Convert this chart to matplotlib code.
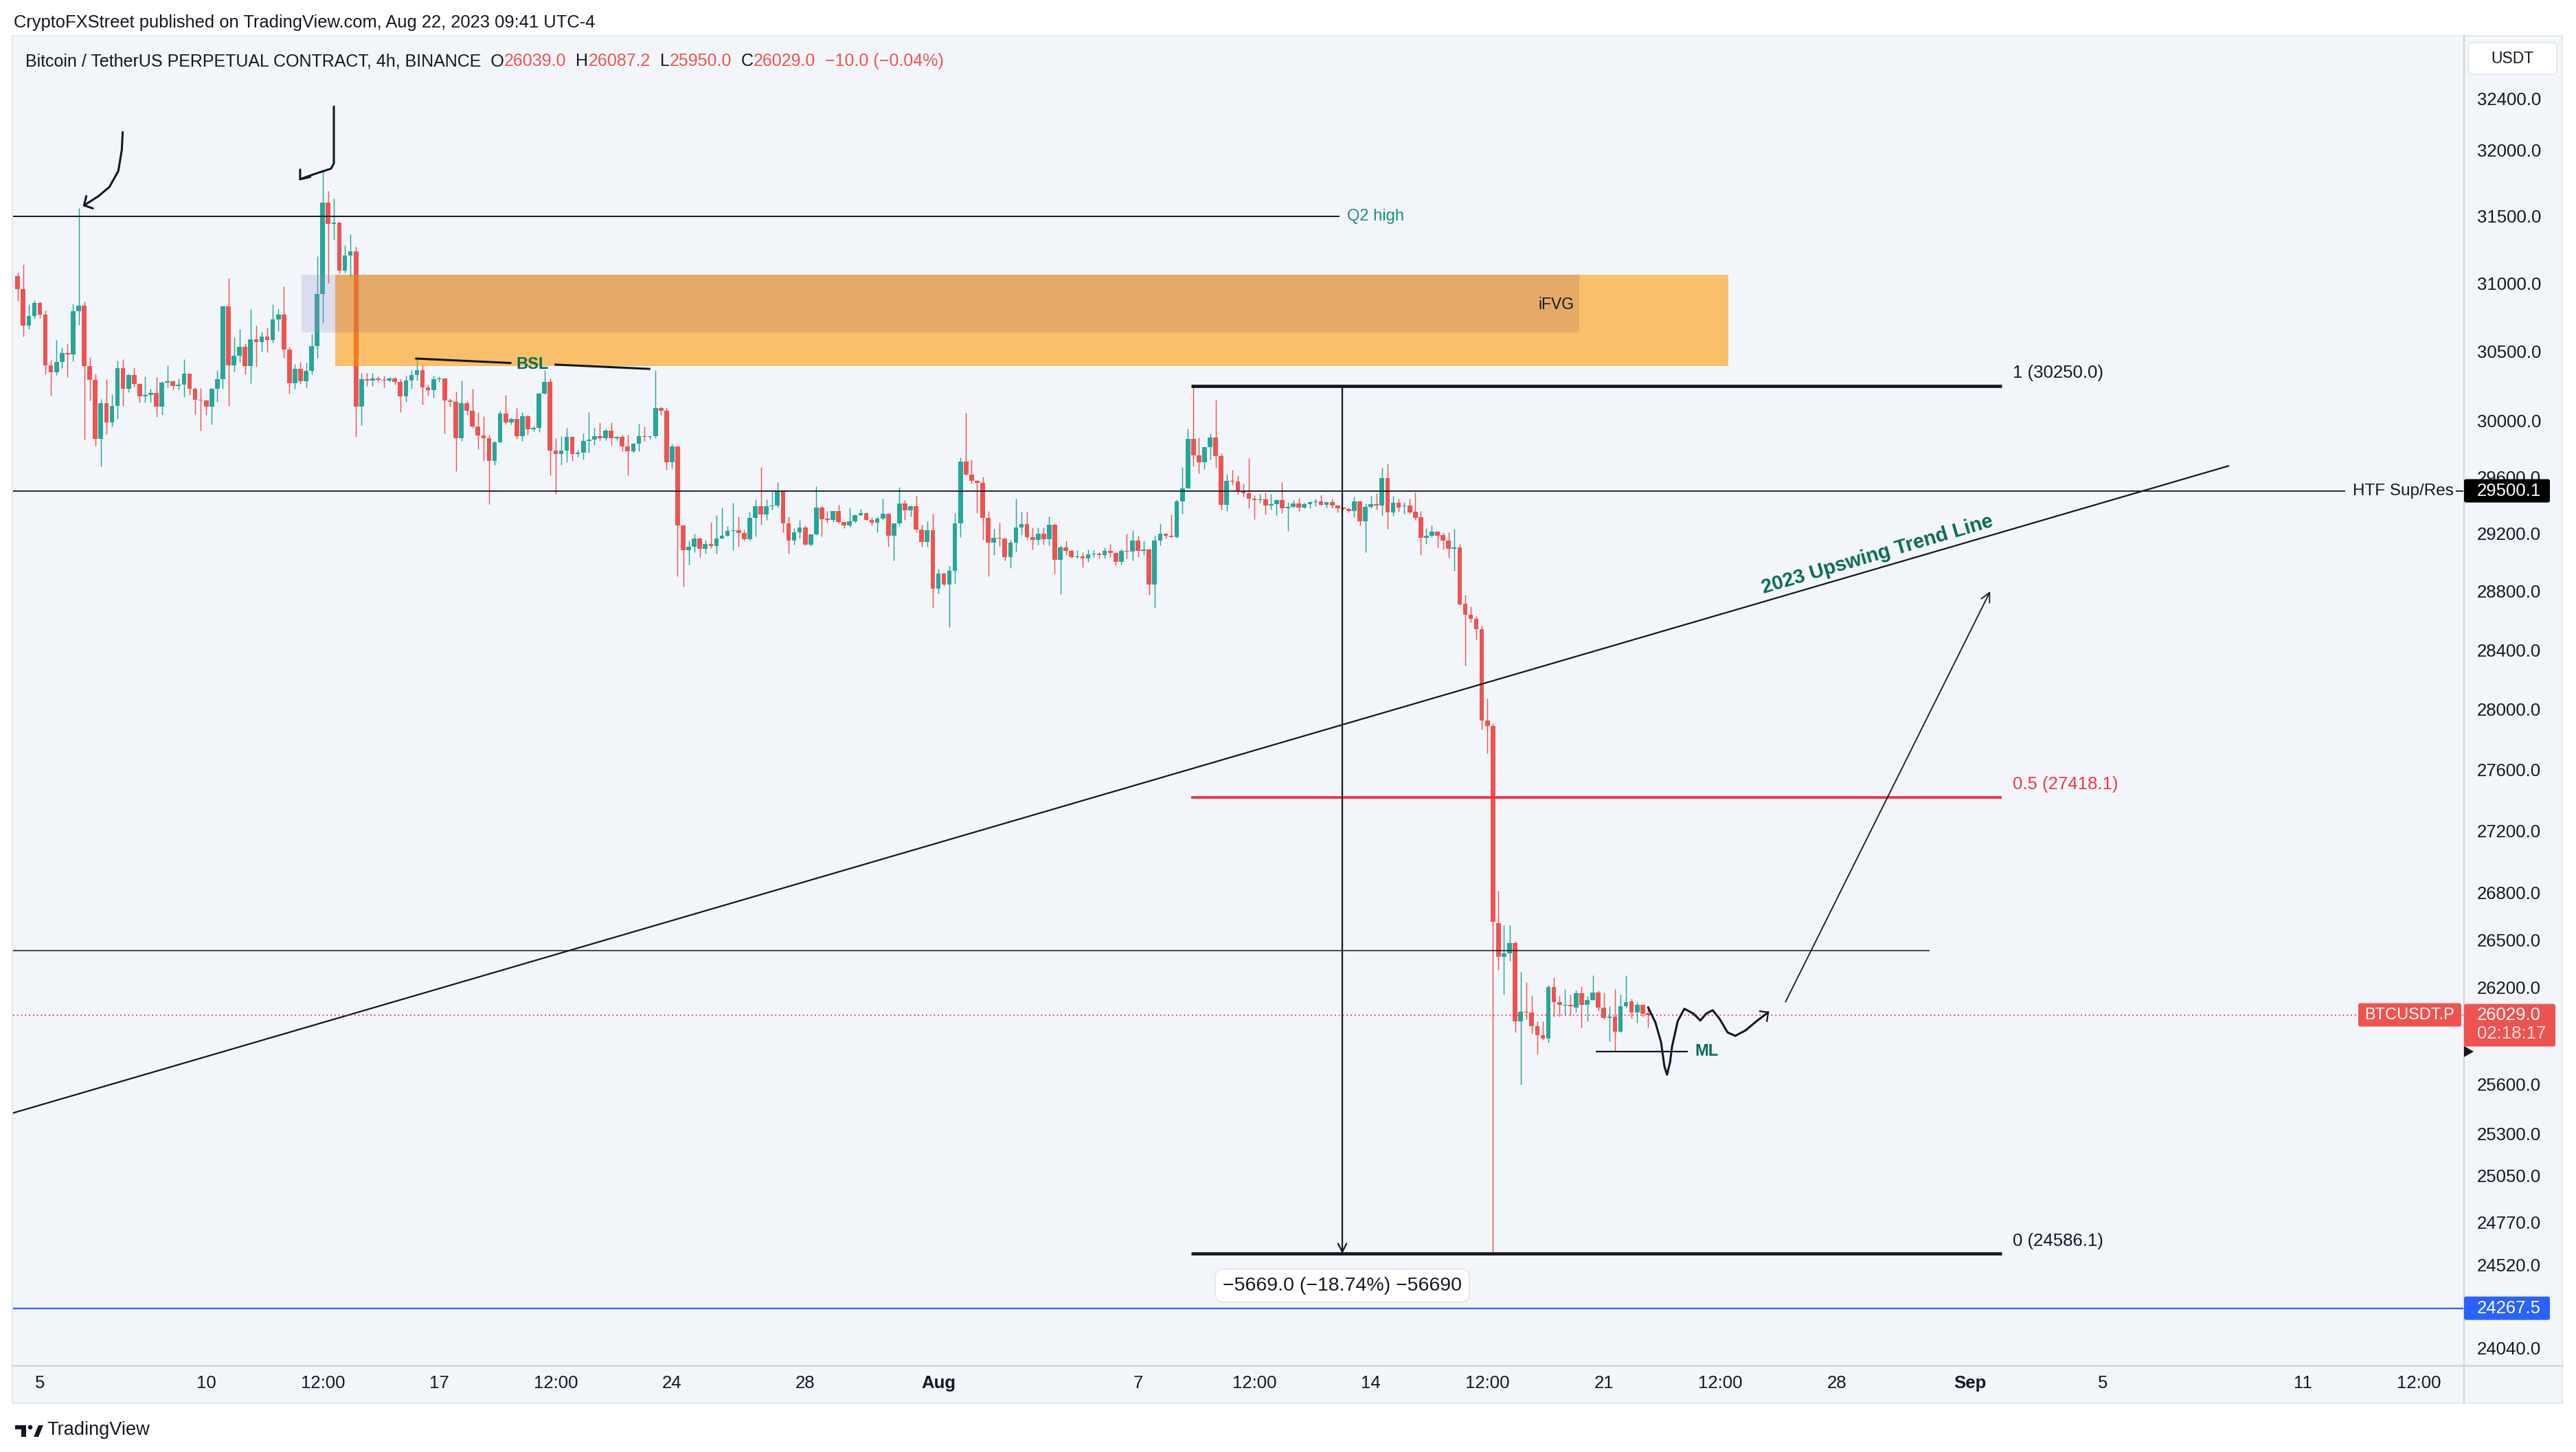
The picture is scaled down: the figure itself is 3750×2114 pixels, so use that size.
import numpy as np
import pandas as pd
import matplotlib
matplotlib.use('Agg')
import matplotlib.pyplot as plt
from matplotlib.patches import Rectangle, FancyBboxPatch, Polygon, Circle
from matplotlib.transforms import IdentityTransform
from matplotlib.ticker import FixedLocator, FixedFormatter, NullLocator
from matplotlib.lines import Line2D

plt.rcParams['font.family'] = ['Liberation Sans', 'DejaVu Sans']

# ------------------------------------------------------------------ data
start_time = '2023-07-04 08:00'   # first 4h candle
opens = [
    31051, 30955, 30686, 30757, 30857, 30767, 30397, 30347, 30423, 30488,
    30478, 30792, 30833, 30392, 30292, 29869, 30126, 29988, 30105, 30378,
    30227, 30330, 30264, 30173, 30184, 30199, 30098, 30271, 30281, 30249,
    30259, 30339, 30227, 30148, 30143, 30100, 30226, 30299, 30828, 30397,
    30465, 30533, 30392, 30588, 30568, 30608, 30581, 30734, 30769, 30511,
    30267, 30370, 30282, 30359, 30535, 30918, 31603, 31442, 31450, 31093,
    31208, 31239, 30100, 30296, 30286, 30305, 30292, 30286, 30301, 30277,
    30173, 30286, 30330, 30362, 30239, 30220, 30296, 30301, 30144, 30135,
    29871, 30125, 30068, 29956, 29894, 29871, 29713, 29844, 30050, 29984,
    30011, 29890, 30031, 29937, 29946, 30192, 30277, 29787, 29760, 29787,
    29881, 29760, 29769, 29853, 29862, 29890, 29871, 29927, 29871, 29881,
    29816, 29778, 29834, 29890, 29881, 29890, 30088, 30068, 29703, 29816,
    29258, 29086, 29110, 29165, 29095, 29130, 29115, 29165, 29186, 29218,
    29226, 29205, 29162, 29309, 29390, 29334, 29390, 29398, 29500, 29270,
    29150, 29210, 29242, 29122, 29195, 29380, 29300, 29297, 29357, 29282,
    29255, 29285, 29328, 29345, 29298, 29277, 29303, 29338, 29186, 29270,
    29413, 29365, 29394, 29229, 29142, 29222, 28818, 28924, 28849, 28940,
    29274, 29707, 29617, 29571, 29554, 29309, 29138, 29170, 29165, 29035,
    29138, 29245, 29266, 29178, 29155, 29202, 29160, 29262, 29019, 29102,
    29082, 29035, 29042, 29028, 29055, 29059, 29053, 29082, 29066, 29003,
    29080, 29075, 29150, 29082, 29090, 28849, 29150, 29202, 29184, 29178,
    29428, 29519, 29866, 29753, 29704, 29809, 29879, 29745, 29400, 29569,
    29564, 29503, 29484, 29447, 29435, 29439, 29395, 29408, 29435, 29379,
    29387, 29411, 29384, 29408, 29419, 29427, 29403, 29420, 29398, 29384,
    29374, 29357, 29427, 29288, 29387, 29408, 29395, 29592, 29350, 29416,
    29392, 29396, 29353, 29315, 29169, 29185, 29216, 29188, 29153, 29094,
    29105, 28716, 28642, 28610, 28542, 27923, 27890, 26607, 26391, 26413,
    26479, 25987, 26050, 26044, 25957, 25904, 25882, 26202, 26107, 26085,
    26091, 26075, 26164, 26091, 26120, 26170, 26075, 26012, 26018, 25925,
    26082, 26114, 26044, 26091, 26039,
]
highs = [
    31076, 31140, 30843, 30876, 30863, 30797, 30438, 30583, 30528, 30558,
    30847, 31560, 30867, 30455, 30339, 30154, 30299, 30189, 30433, 30443,
    30339, 30383, 30269, 30320, 30226, 30314, 30282, 30398, 30290, 30304,
    30443, 30339, 30239, 30234, 30149, 30232, 30364, 30835, 31036, 30603,
    30662, 30558, 30807, 30687, 30642, 30672, 30843, 30807, 30976, 30531,
    30408, 30423, 30418, 30627, 31202, 31843, 31691, 31635, 31459, 31285,
    31367, 31274, 30343, 30343, 30343, 30320, 30324, 30311, 30311, 30305,
    30324, 30362, 30447, 30400, 30260, 30324, 30320, 30305, 30160, 30210,
    30286, 30140, 30230, 30059, 30031, 29900, 29853, 30068, 30182, 30020,
    30088, 30059, 30040, 29960, 30200, 30362, 30305, 29871, 29890, 29946,
    29890, 29790, 29909, 30059, 29946, 29984, 29940, 29984, 29890, 29900,
    29900, 29840, 29974, 29956, 29895, 30362, 30100, 30097, 29834, 29817,
    29262, 29150, 29200, 29170, 29155, 29282, 29330, 29380, 29250, 29417,
    29320, 29230, 29353, 29441, 29670, 29441, 29495, 29559, 29503, 29320,
    29240, 29298, 29258, 29195, 29534, 29392, 29360, 29357, 29400, 29282,
    29382, 29335, 29375, 29350, 29315, 29320, 29444, 29340, 29270, 29525,
    29433, 29398, 29462, 29262, 29286, 29340, 28956, 28930, 28973, 29342,
    29735, 30057, 29724, 29575, 29599, 29357, 29235, 29276, 29170, 29155,
    29444, 29355, 29353, 29245, 29245, 29245, 29320, 29274, 29118, 29150,
    29090, 29086, 29070, 29090, 29086, 29070, 29102, 29130, 29070, 29095,
    29202, 29226, 29186, 29150, 29095, 29186, 29272, 29205, 29335, 29441,
    29670, 29944, 30250, 29876, 29814, 29909, 30149, 29766, 29619, 29650,
    29609, 29551, 29729, 29470, 29479, 29487, 29479, 29441, 29562, 29419,
    29435, 29451, 29416, 29424, 29446, 29470, 29420, 29446, 29403, 29387,
    29384, 29460, 29431, 29412, 29465, 29484, 29665, 29690, 29465, 29446,
    29419, 29446, 29487, 29358, 29236, 29259, 29221, 29207, 29207, 29231,
    29130, 28775, 28697, 28631, 28566, 28074, 27906, 26813, 26594, 26594,
    26491, 26296, 26233, 26145, 25987, 25987, 26217, 26264, 26145, 26192,
    26155, 26186, 26208, 26145, 26277, 26183, 26170, 26082, 26192, 26155,
    26277, 26129, 26107, 26091, 26087.2,
]
lows = [
    30872, 30606, 30661, 30740, 30745, 30332, 30178, 30327, 30377, 30312,
    30427, 30692, 29864, 30143, 29819, 29675, 29904, 29959, 30013, 30103,
    30203, 30241, 30128, 30128, 30128, 30028, 30038, 30236, 30222, 30222,
    30168, 30183, 30043, 29929, 30038, 29970, 30133, 30227, 30103, 30352,
    30422, 30332, 30267, 30388, 30496, 30491, 30563, 30646, 30452, 30193,
    30227, 30262, 30237, 30332, 30452, 30706, 31001, 31323, 31072, 31077,
    31047, 29882, 29968, 30248, 30248, 30277, 30239, 30277, 30258, 30059,
    30135, 30230, 30290, 30116, 30180, 30163, 30280, 29909, 30100, 29638,
    29853, 30040, 29946, 29797, 29713, 29407, 29685, 29844, 29974, 29970,
    29870, 29853, 29900, 29920, 29918, 30190, 29610, 29480, 29685, 29703,
    29713, 29740, 29722, 29769, 29825, 29853, 29860, 29825, 29860, 29778,
    29610, 29770, 29778, 29853, 29870, 29871, 30040, 29647, 29657, 28904,
    28833, 28987, 29070, 29035, 29060, 29100, 29062, 29165, 29180, 29086,
    29110, 29150, 29150, 29180, 29262, 29295, 29370, 29380, 29210, 29062,
    29122, 29165, 29120, 29115, 29190, 29180, 29275, 29282, 29270, 29239,
    29248, 29278, 29325, 29295, 29255, 29210, 29298, 29110, 29012, 29255,
    29298, 29320, 29210, 29110, 29110, 28689, 28786, 28840, 28556, 28853,
    29178, 29612, 29550, 29345, 29155, 28905, 29050, 29115, 29012, 28960,
    29075, 29190, 29155, 29090, 29122, 29122, 29118, 28924, 28783, 29050,
    29027, 29030, 28964, 29003, 29035, 29027, 29030, 29035, 28980, 28987,
    29027, 29012, 29035, 29050, 28776, 28687, 29120, 29165, 29178, 29170,
    29340, 29519, 29675, 29626, 29652, 29721, 29665, 29366, 29360, 29544,
    29476, 29460, 29379, 29302, 29414, 29336, 29366, 29331, 29342, 29221,
    29384, 29360, 29376, 29379, 29393, 29398, 29384, 29379, 29347, 29369,
    29350, 29315, 29255, 29070, 29379, 29369, 29323, 29231, 29323, 29355,
    29341, 29341, 29294, 29051, 29126, 29177, 29102, 29088, 29032, 28943,
    28705, 28292, 28590, 28472, 27867, 27708, 24586, 26311, 26155, 26365,
    25919, 25601, 26003, 25913, 25786, 25873, 25857, 26018, 26018, 26028,
    26028, 26044, 25950, 25987, 26120, 26053, 26003, 25864, 25802, 25919,
    26075, 26006, 25981, 26018, 25950,
]
closes = [
    30955, 30686, 30757, 30857, 30767, 30397, 30347, 30423, 30488, 30478,
    30792, 30833, 30392, 30292, 29869, 30126, 29988, 30105, 30378, 30227,
    30330, 30264, 30173, 30184, 30199, 30098, 30271, 30281, 30249, 30259,
    30339, 30227, 30148, 30143, 30100, 30226, 30299, 30828, 30397, 30465,
    30533, 30392, 30588, 30568, 30608, 30581, 30734, 30769, 30511, 30267,
    30370, 30282, 30359, 30535, 30918, 31603, 31442, 31450, 31093, 31208,
    31239, 30100, 30296, 30286, 30305, 30292, 30286, 30301, 30277, 30173,
    30286, 30330, 30362, 30239, 30220, 30296, 30301, 30144, 30135, 29871,
    30125, 30068, 29956, 29894, 29871, 29713, 29844, 30050, 29984, 30011,
    29890, 30031, 29937, 29946, 30192, 30277, 29787, 29760, 29787, 29881,
    29760, 29769, 29853, 29862, 29890, 29871, 29927, 29871, 29881, 29816,
    29778, 29834, 29890, 29881, 29890, 30088, 30068, 29703, 29816, 29258,
    29086, 29110, 29165, 29095, 29130, 29115, 29165, 29186, 29218, 29226,
    29205, 29162, 29309, 29390, 29334, 29390, 29398, 29500, 29270, 29150,
    29210, 29242, 29122, 29195, 29380, 29300, 29297, 29357, 29282, 29255,
    29285, 29328, 29345, 29298, 29277, 29303, 29338, 29186, 29270, 29413,
    29365, 29394, 29229, 29142, 29222, 28818, 28924, 28849, 28940, 29274,
    29707, 29617, 29571, 29554, 29309, 29138, 29170, 29165, 29035, 29138,
    29245, 29266, 29178, 29155, 29202, 29160, 29262, 29019, 29102, 29082,
    29035, 29042, 29028, 29055, 29059, 29053, 29082, 29066, 29003, 29080,
    29075, 29150, 29082, 29090, 28849, 29150, 29202, 29184, 29178, 29428,
    29519, 29866, 29753, 29704, 29809, 29879, 29745, 29400, 29569, 29564,
    29503, 29484, 29447, 29435, 29439, 29395, 29408, 29435, 29379, 29387,
    29411, 29384, 29408, 29419, 29427, 29403, 29420, 29398, 29379, 29371,
    29357, 29427, 29288, 29387, 29408, 29395, 29592, 29350, 29416, 29384,
    29396, 29350, 29312, 29169, 29185, 29216, 29185, 29153, 29094, 29105,
    28709, 28642, 28610, 28539, 27923, 27890, 26613, 26391, 26413, 26479,
    25987, 26050, 26044, 25957, 25904, 25882, 26202, 26107, 26091, 26091,
    26082, 26164, 26091, 26120, 26170, 26075, 26012, 26018, 25925, 26082,
    26107, 26044, 26091, 26037, 26029,
]

price_ticks = [32400, 32000, 31500, 31000, 30500, 30000, 29600, 29200, 28800,
               28400, 28000, 27600, 27200, 26800, 26500, 26200, 25600, 25300,
               25050, 24770, 24520, 24040]
date_ticks = ['2023-07-05', '2023-07-10', '2023-07-13 12:00', '2023-07-17',
              '2023-07-20 12:00', '2023-07-24', '2023-07-28', '2023-08-01',
              '2023-08-07', '2023-08-10 12:00', '2023-08-14', '2023-08-17 12:00',
              '2023-08-21', '2023-08-24 12:00', '2023-08-28', '2023-09-01',
              '2023-09-05', '2023-09-11', '2023-09-14 12:00']
date_labels = ['5', '10', '12:00', '17', '12:00', '24', '28', 'Aug', '7', '12:00',
               '14', '12:00', '21', '12:00', '28', 'Sep', '5', '11', '12:00']

# key levels
q2_high = 31500.0
htf_level = 29500.1
fib_1, fib_05, fib_0 = 30250.0, 27418.1, 24586.1
mid_line = 26432.0
last_price = 26029.0
blue_level = 24267.5
ml_level = 25802.0

# ------------------------------------------------------------------ style
W, H, DPI = 3750, 2114, 100
TEAL, RED, INK, BG = '#26A69A', '#EF5350', '#131722', '#F2F6FA'
GTXT = '#0B6B55'
ID = IdentityTransform()
T0 = pd.Timestamp('2023-07-01')


def to_day(ts):
    return (pd.Timestamp(ts) - T0) / pd.Timedelta(days=1)


fig = plt.figure(figsize=(W / DPI, H / DPI), dpi=DPI)
fig.patch.set_facecolor('white')


def fx(px):
    return px / W


def fy(py):
    return 1 - py / H


fig.add_artist(Rectangle((fx(18), fy(2043)), fx(3730) - fx(18), fy(52) - fy(2043),
                         transform=fig.transFigure, facecolor=BG,
                         edgecolor='#E0E3EB', lw=1.2, zorder=0))

ax = fig.add_axes([fx(19), fy(1988), fx(3587) - fx(19), fy(52) - fy(1988)])
ax.set_facecolor(BG)
ax.set_yscale('log')
XL, XR = 3.195, 76.85
ax.set_xlim(XL, XR)
ax.set_ylim(23938, 32888)
for s in ax.spines.values():
    s.set_visible(False)

# axes ticks
ax.yaxis.tick_right()
ax.yaxis.set_major_locator(FixedLocator(price_ticks))
ax.yaxis.set_major_formatter(FixedFormatter([f'{v:.1f}' for v in price_ticks]))
ax.yaxis.set_minor_locator(NullLocator())
ax.tick_params(axis='y', which='both', length=0, pad=13.5, labelsize=18.5,
               labelcolor=INK)
ax.set_xticks([to_day(d) for d in date_ticks])
ax.set_xticklabels(date_labels)
ax.xaxis.set_minor_locator(NullLocator())
ax.tick_params(axis='x', which='both', length=0, pad=10, labelsize=18.5,
               labelcolor=INK)
for lab in ax.get_xticklabels():
    if lab.get_text() in ('Aug', 'Sep'):
        lab.set_fontweight('bold')

# ------------------------------------------------------------------ candles
t = pd.date_range(start_time, periods=len(opens), freq='4h')
x = ((t - T0) / pd.Timedelta(days=1)).to_numpy()
o, h, l, c = (np.array(v, dtype=float) for v in (opens, highs, lows, closes))
col = np.where(c >= o, TEAL, RED)
ax.vlines(x, l, h, colors=col, lw=1.05, zorder=2)
body_lo = np.minimum(o, c)
body_h = np.maximum(np.abs(c - o), 6.0)
ax.bar(x, body_h, bottom=body_lo, width=0.138, color=col, lw=0, zorder=2.1)

# ------------------------------------------------------------------ zones
ax.add_patch(Rectangle((12.88, 30394), 54.74 - 12.88, 31062 - 30394,
                       facecolor='#FF9800', alpha=0.58, lw=0, zorder=3))
ax.add_patch(Rectangle((11.86, 30638), 12.88 - 11.86, 31062 - 30638,
                       facecolor='#9C8FD0', alpha=0.25, lw=0, zorder=3.1))
ax.add_patch(Rectangle((12.88, 30638), 50.27 - 12.88, 31062 - 30638,
                       facecolor='#965A64', alpha=0.2, lw=0, zorder=3.1))
ax.text(49.03, 30840, 'iFVG', fontsize=16.5, color=INK, va='center', ha='left',
        zorder=6)

# ------------------------------------------------------------------ lines
ax.hlines(q2_high, XL, 43.06, color=INK, lw=1.4, zorder=4)
ax.text(43.28, q2_high, 'Q2 high', fontsize=17, color='#1B9079', va='center',
        ha='left', zorder=6)

ax.hlines(htf_level, XL, 73.28, color=INK, lw=1.3, zorder=4)
ax.hlines(htf_level, 76.61, XR, color=INK, lw=1.3, zorder=4)
ax.text(73.51, htf_level, 'HTF Sup/Res', fontsize=17.5, color=INK,
        va='center', ha='left', zorder=6)

# fib retracement
fib_x0, fib_x1 = 38.60, 62.96
for lvl, lab, cc, lw in [(fib_1, '1 (30250.0)', INK, 3.4),
                         (fib_05, '0.5 (27418.1)', '#F23645', 2.8),
                         (fib_0, '0 (24586.1)', INK, 3.4)]:
    ax.hlines(lvl, fib_x0, fib_x1, color=cc, lw=lw, zorder=4)
    ax.annotate(lab, xy=(63.29, lvl), xytext=(0, 13.3), textcoords='offset points',
                fontsize=18.5, color=cc, va='center', ha='left', zorder=6)

# measurement arrow
ax.annotate('', xy=(43.14, fib_0), xytext=(43.14, fib_1),
            arrowprops=dict(arrowstyle='->', color=INK, lw=1.6, shrinkA=0,
                            shrinkB=0, mutation_scale=22), zorder=5)
ax.text(43.14, 24399, '\u22125669.0 (\u221218.74%) \u221256690', fontsize=20.5,
        color=INK, ha='center', va='center', zorder=7,
        bbox=dict(boxstyle='round,pad=0.38,rounding_size=0.4', fc='white',
                  ec='#E0E3EB', lw=1))

# trend line
ax.plot([XL, 69.77], [25426, 29676], color=INK, lw=1.6, zorder=4)
ax.text(55.80, 28786, '2023 Upswing Trend Line', fontsize=21, fontweight='bold',
        color=GTXT, rotation=16.3, rotation_mode='anchor', ha='left',
        va='baseline', zorder=6)

ax.hlines(mid_line, XL, 60.79, color=INK, lw=1.1, zorder=4)
ax.axhline(last_price, color='#F23645', lw=1.3, ls=(0, (1, 2.2)), zorder=4)
ax.axhline(blue_level, color='#2962FF', lw=1.6, zorder=4)

# ML
ax.hlines(ml_level, 50.76, 53.52, color=INK, lw=1.6, zorder=4)
ax.text(53.73, ml_level, 'ML', fontsize=17, fontweight='bold', color=GTXT,
        va='center', ha='left', zorder=6)

# BSL
ax.plot([15.311, 18.141], [30447, 30415], color=INK, lw=2.2, zorder=4)
ax.plot([19.498, 22.316], [30403, 30372], color=INK, lw=2.2, zorder=4)
ax.text(18.80, 30405, 'BSL', fontsize=17, fontweight='bold', color=GTXT,
        va='center', ha='center', zorder=6)

# hand drawn arrows
hd = dict(color=INK, lw=2.2, solid_capstyle='round', solid_joinstyle='round',
          zorder=5, clip_on=False)
arr1_d = [6.490, 6.463, 6.358, 6.093, 5.765, 5.330]
arr1_p = [32139, 32003, 31842, 31722, 31652, 31582]
ax.plot(arr1_d, arr1_p, **hd)
ax.plot([5.396, 5.330, 5.594], [31652, 31582, 31559], **hd)
arr2_d = [12.836, 12.836, 12.75, 12.283, 11.822]
arr2_p = [32336, 31900, 31860, 31822, 31780]
ax.plot(arr2_d, arr2_p, **hd)
ax.plot([11.822, 11.822, 12.124], [31853, 31780, 31797], **hd)

squig_d = [52.33, 52.55, 52.72, 52.82, 52.90, 52.99, 53.05, 53.22, 53.42, 53.69,
           53.90, 54.08, 54.27, 54.47, 54.72, 54.95, 55.26, 55.59, 55.94]
squig_p = [26076, 25982, 25859, 25711, 25660, 25736, 25833, 25990, 26067, 26037,
           25994, 26037, 26058, 26007, 25920, 25899, 25933, 25990, 26045]
ax.plot(squig_d, squig_p, **hd)
ax.plot([55.69, 55.94, 55.90], [26052, 26045, 25990], color=INK, lw=1.6,
        zorder=5)

ax.annotate('', xy=(62.61, 28800), xytext=(56.46, 26110),
            arrowprops=dict(arrowstyle='->', color=INK, lw=1.3, shrinkA=0,
                            shrinkB=0, mutation_scale=24), zorder=5)

# ------------------------------------------------------------------ frame lines
fig.add_artist(Line2D([3587, 3587], [H - 52, H - 2043], transform=ID,
                      color='#D1D4DC', lw=1.5, zorder=9))
fig.add_artist(Line2D([18, 3730], [H - 1988, H - 1988], transform=ID,
                      color='#D1D4DC', lw=1.8, zorder=9))


def ypix(p):
    return ax.transData.transform((10.0, p))[1]


def rbox(x0, x1, y0, y1, fc, ec='none', r=4, z=10):
    fig.add_artist(FancyBboxPatch((x0, y0), x1 - x0, y1 - y0,
                                  boxstyle=f'round,pad=0,rounding_size={r}',
                                  transform=ID, fc=fc, ec=ec, lw=1, zorder=z))


# USDT box
rbox(3593, 3722, H - 108, H - 62, 'white', '#E0E3EB', r=7)
fig.text(3657, H - 85, 'USDT', transform=ID, ha='center', va='center',
         fontsize=16.5, color=INK, zorder=11)

# price labels on the scale
yh = ypix(htf_level)
rbox(3587, 3712, yh - 17, yh + 17, 'black', r=3)
fig.text(3606, yh, f'{htf_level:.1f}', transform=ID, ha='left', va='center',
         fontsize=18.5, color='white', zorder=11)

yl = ypix(last_price)
rbox(3587, 3720, yl - 46, yl + 16, RED, r=3)
fig.text(3606, yl, f'{last_price:.1f}', transform=ID, ha='left', va='center',
         fontsize=18.5, color='white', zorder=11)
fig.text(3606, yl - 27, '02:18:17', transform=ID, ha='left', va='center',
         fontsize=18.5, color='#FDE3E3', zorder=11)
rbox(3433, 3583, yl - 17, yl + 17, RED, r=3)
fig.text(3508, yl, 'BTCUSDT.P', transform=ID, ha='center', va='center',
         fontsize=17, color='white', zorder=11)

yb = ypix(blue_level)
rbox(3587, 3712, yb - 17, yb + 17, '#2962FF', r=3)
fig.text(3606, yb, f'{blue_level:.1f}', transform=ID, ha='left', va='center',
         fontsize=18.5, color='white', zorder=11)

ym = ypix(ml_level)
fig.add_artist(Polygon([(3587, ym + 8), (3601, ym), (3587, ym - 8)], closed=True,
                       transform=ID, fc=INK, ec='none', zorder=11))

# ------------------------------------------------------------------ header / footer
fig.text(20, H - 33, 'CryptoFXStreet published on TradingView.com, Aug 22, 2023 09:41 UTC-4',
         transform=ID, ha='left', va='center', fontsize=18.4, color=INK)

parts = [('Bitcoin / TetherUS PERPETUAL CONTRACT, 4h, BINANCE  O', INK),
         ('26039.0', RED), ('  H', INK), ('26087.2', RED), ('  L', INK),
         ('25950.0', RED), ('  C', INK), ('26029.0', RED),
         ('  \u221210.0 (\u22120.04%)', RED)]
prev = fig.text(37, H - 89, parts[0][0], transform=ID, ha='left', va='center',
                fontsize=18.0, color=parts[0][1])
for s, cc in parts[1:]:
    prev = ax.annotate(s, xy=(1, 0), xycoords=prev, ha='left', va='bottom',
                       fontsize=18.0, color=cc, annotation_clip=False)

# TradingView logo + name
fig.add_artist(Rectangle((22, H - 2081), 16, 6, transform=ID, fc=INK, ec='none'))
fig.add_artist(Rectangle((31, H - 2092), 7, 17, transform=ID, fc=INK, ec='none'))
fig.add_artist(Circle((44, H - 2078), 3.3, transform=ID, fc=INK, ec='none'))
fig.add_artist(Polygon([(49, H - 2092), (56, H - 2075), (63, H - 2075), (56, H - 2092)],
                       closed=True, transform=ID, fc=INK, ec='none'))
fig.text(68, H - 2082, 'TradingView', transform=ID, ha='left', va='center',
         fontsize=19.5, color=INK)

fig.savefig('out.png', dpi=DPI, facecolor='white')
